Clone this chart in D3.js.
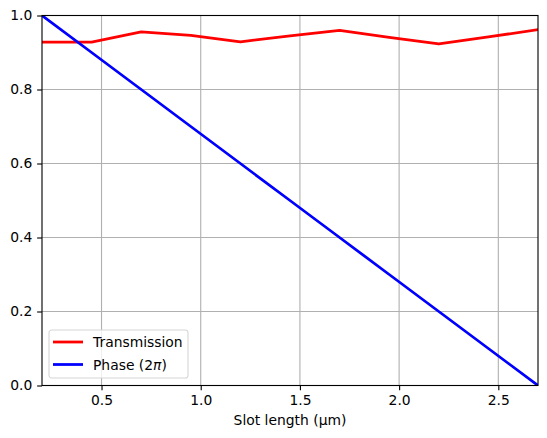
<!DOCTYPE html>
<html>
<head>
<meta charset="utf-8">
<script src="https://cdn.jsdelivr.net/npm/d3@7"></script>
<style>
  body { margin: 0; background: #fff; }
  svg { font-family: "DejaVu Sans", sans-serif; }
</style>
</head>
<body>
<svg width="547" height="438"></svg>
<script>
"use strict";

// data
const slotLength = [0.2, 0.45, 0.7, 0.95, 1.2, 1.45, 1.7, 1.95, 2.2, 2.45, 2.7];
const transmission = [0.928, 0.928, 0.956, 0.946, 0.929, 0.945, 0.960, 0.941, 0.923, 0.942, 0.962];
const phase = [1.0, 0.9, 0.8, 0.7, 0.6, 0.5, 0.4, 0.3, 0.2, 0.1, 0.0];
const xTicks = [0.5, 1.0, 1.5, 2.0, 2.5];
const yTicks = [0.0, 0.2, 0.4, 0.6, 0.8, 1.0];

const width = 547, height = 438,
      margin = { top: 15.5, right: 9, bottom: 52.5, left: 42 },
      fontSize = 13.89,
      tickLen = 4.86,
      lineW = 2.78;

let chart = d3.select("svg");

let x = d3.scaleLinear().domain([0.2, 2.7]).range([margin.left, width - margin.right]);
let y = d3.scaleLinear().domain([0, 1]).range([height - margin.bottom, margin.top]);

// grid
let grid = chart.append("g").attr("class", "grid");
grid.selectAll("line.gx")
  .data(xTicks)
  .enter()
  .append("line")
  .attr("x1", d => x(d)).attr("x2", d => x(d))
  .attr("y1", y(0)).attr("y2", y(1))
  .attr("stroke", "#b0b0b0").attr("stroke-width", 1.11);
grid.selectAll("line.gy")
  .data(yTicks)
  .enter()
  .append("line")
  .attr("x1", x(0.2)).attr("x2", x(2.7))
  .attr("y1", d => y(d)).attr("y2", d => y(d))
  .attr("stroke", "#b0b0b0").attr("stroke-width", 1.11);

// clip for lines
chart.append("clipPath").attr("id", "plot")
  .append("rect")
  .attr("x", x(0.2)).attr("y", y(1))
  .attr("width", x(2.7) - x(0.2)).attr("height", y(0) - y(1));

let line = d3.line().x(d => x(d[0])).y(d => y(d[1]));

chart.append("path")
  .datum(slotLength.map((d, i) => [d, transmission[i]]))
  .attr("d", line)
  .attr("fill", "none").attr("stroke", "red").attr("stroke-width", lineW)
  .attr("stroke-linejoin", "round").attr("stroke-linecap", "square")
  .attr("clip-path", "url(#plot)");

chart.append("path")
  .datum(slotLength.map((d, i) => [d, phase[i]]))
  .attr("d", line)
  .attr("fill", "none").attr("stroke", "blue").attr("stroke-width", lineW)
  .attr("stroke-linejoin", "round").attr("stroke-linecap", "square")
  .attr("clip-path", "url(#plot)");

// axes
let xAxis = chart.append("g")
  .attr("transform", `translate(0, ${y(0)})`)
  .call(d3.axisBottom(x).tickValues(xTicks).tickFormat(d3.format(".1f")).tickSize(tickLen).tickPadding(4.9));
let yAxis = chart.append("g")
  .attr("transform", `translate(${x(0.2)}, 0)`)
  .call(d3.axisLeft(y).tickValues(yTicks).tickFormat(d3.format(".1f")).tickSize(tickLen).tickPadding(4.9));

[xAxis, yAxis].forEach(a => {
  a.select(".domain").remove();
  a.selectAll(".tick line").attr("stroke", "#000").attr("stroke-width", 1.11);
  a.selectAll(".tick text")
    .attr("fill", "#000")
    .style("font-family", "DejaVu Sans")
    .style("font-size", fontSize + "px");
});

// spines
chart.append("rect")
  .attr("x", x(0.2)).attr("y", y(1))
  .attr("width", x(2.7) - x(0.2)).attr("height", y(0) - y(1))
  .attr("fill", "none").attr("stroke", "#000").attr("stroke-width", 1.11);

// x label
chart.append("text")
  .attr("x", (x(0.2) + x(2.7)) / 2)
  .attr("y", 425)
  .attr("text-anchor", "middle")
  .style("font-size", fontSize + "px")
  .text("Slot length (μm)");

// legend
let legend = chart.append("g").attr("transform", `translate(49, 330)`);
legend.append("rect")
  .attr("width", 139).attr("height", 48)
  .attr("rx", 2.8)
  .attr("fill", "#fff").attr("fill-opacity", 0.8)
  .attr("stroke", "#d6d6d6").attr("stroke-width", 1.11);

const legendItems = [
  { label: "Transmission", color: "red" },
  { label: "Phase", color: "blue" }
];
legendItems.forEach((d, i) => {
  let g = legend.append("g").attr("transform", `translate(0, ${12 + i * 22.5})`);
  g.append("line")
    .attr("x1", 4).attr("x2", 34)
    .attr("y1", 0).attr("y2", 0)
    .attr("stroke", d.color).attr("stroke-width", lineW);
  let t = g.append("text")
    .attr("x", 44).attr("y", 5)
    .style("font-size", fontSize + "px");
  if (i == 0) {
    t.text(d.label);
  } else {
    t.append("tspan").text("Phase (2");
    t.append("tspan").style("font-style", "italic").text("π");
    t.append("tspan").text(")");
  }
});
</script>
</body>
</html>
